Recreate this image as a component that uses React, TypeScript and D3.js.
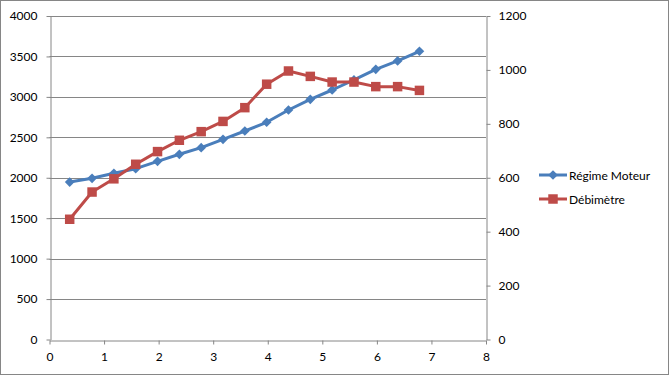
import { useEffect, useRef } from "react";
import * as d3 from "d3";

// abscisse commune aux deux séries
const xValues = [0.37, 0.78, 1.18, 1.58, 1.98, 2.38, 2.78, 3.18, 3.58, 3.98, 4.38, 4.78, 5.18, 5.58, 5.98, 6.38, 6.78];
const regimeMoteur = [1947, 1993, 2055, 2112, 2203, 2290, 2372, 2475, 2578, 2686, 2838, 2970, 3085, 3209, 3341, 3444, 3564];
const debimetre = [446, 547, 596, 650, 697, 739, 771, 809, 860, 947, 996, 976, 955, 955, 938, 938, 924];
const xTicks = [0, 1, 2, 3, 4, 5, 6, 7, 8];
const leftTicks = [0, 500, 1000, 1500, 2000, 2500, 3000, 3500, 4000];
const rightTicks = [0, 200, 400, 600, 800, 1000, 1200];
const seriesNames = ["Régime Moteur", "Débimètre"];

const W = 669;
const H = 375;
const BLUE = "#4A7EBB";
const RED = "#BE4B48";
const GRID = "#868686";
const FONT = "Lato, 'Open Sans', sans-serif";

const App = () => {
    const svgRef = useRef<SVGSVGElement>(null);

    useEffect(() => {
        const svg = d3.select(svgRef.current);
        svg.selectAll("*").remove();

        const x = d3.scaleLinear().domain([0, 8]).range([49.5, 486]);
        const yL = d3.scaleLinear().domain([0, 4000]).range([339.5, 16]);
        const yR = d3.scaleLinear().domain([0, 1200]).range([339.5, 16]);
        const fmt = d3.format("d");

        // cadre du graphique
        svg.append("rect")
            .attr("x", 0.5).attr("y", 0.5)
            .attr("width", W - 1).attr("height", H - 1)
            .attr("fill", "#fff").attr("stroke", GRID);

        // quadrillage
        svg.append("g")
            .selectAll("line")
            .data(leftTicks.slice(1))
            .join("line")
            .attr("x1", x(0)).attr("x2", x(8))
            .attr("y1", (d) => Math.round(yL(d)) + 0.5)
            .attr("y2", (d) => Math.round(yL(d)) + 0.5)
            .attr("stroke", GRID);

        const styleAxis = (g) => {
            g.select(".domain").attr("stroke", GRID);
            g.selectAll(".tick line").attr("stroke", GRID);
            g.selectAll(".tick text")
                .attr("fill", "#000")
                .style("font-family", FONT)
                .style("font-size", "12px");
        };

        svg.append("g")
            .attr("transform", `translate(0,${Math.round(yL(0)) + 0.5})`)
            .call(d3.axisBottom(x).tickValues(xTicks).tickFormat(fmt).tickSize(4).tickSizeOuter(0).tickPadding(8))
            .call(styleAxis);

        svg.append("g")
            .attr("transform", `translate(${Math.round(x(0)) + 0.5},0)`)
            .call(d3.axisLeft(yL).tickValues(leftTicks).tickFormat(fmt).tickSize(4).tickSizeOuter(0).tickPadding(9))
            .call(styleAxis);

        svg.append("g")
            .attr("transform", `translate(${Math.round(x(8)) + 0.5},0)`)
            .call(d3.axisRight(yR).tickValues(rightTicks).tickFormat(fmt).tickSize(4).tickSizeOuter(0).tickPadding(8))
            .call(styleAxis);

        const diamond = d3.symbol().type(d3.symbolDiamond2).size(60);
        const square = d3.symbol().type(d3.symbolSquare).size(90);

        const series = [
            { name: seriesNames[0], values: regimeMoteur, y: yL, color: BLUE, marker: diamond },
            { name: seriesNames[1], values: debimetre, y: yR, color: RED, marker: square },
        ];

        series.forEach((s) => {
            const pts = s.values.map((v, i) => [x(xValues[i]), s.y(v)]);
            svg.append("path")
                .attr("d", d3.line()(pts))
                .attr("fill", "none")
                .attr("stroke", s.color)
                .attr("stroke-width", 3)
                .attr("stroke-linejoin", "round");
            svg.append("g")
                .selectAll("path")
                .data(pts)
                .join("path")
                .attr("transform", (d) => `translate(${d[0]},${d[1]})`)
                .attr("d", s.marker())
                .attr("fill", s.color);
        });

        // légende
        const legend = svg.append("g");
        series.forEach((s, i) => {
            const ly = 175 + i * 24;
            legend.append("line")
                .attr("x1", 539).attr("x2", 567)
                .attr("y1", ly).attr("y2", ly)
                .attr("stroke", s.color).attr("stroke-width", 3);
            legend.append("path")
                .attr("transform", `translate(553,${ly})`)
                .attr("d", s.marker())
                .attr("fill", s.color);
            legend.append("text")
                .attr("x", 569).attr("y", ly)
                .attr("dominant-baseline", "central")
                .style("font-family", FONT)
                .style("font-size", "12px")
                .text(s.name);
        });
    }, []);

    return (
        <div style={{ position: "absolute", left: 0, top: 0 }}>
            <svg ref={svgRef} width={W} height={H} />
        </div>
    );
};

export default App;
